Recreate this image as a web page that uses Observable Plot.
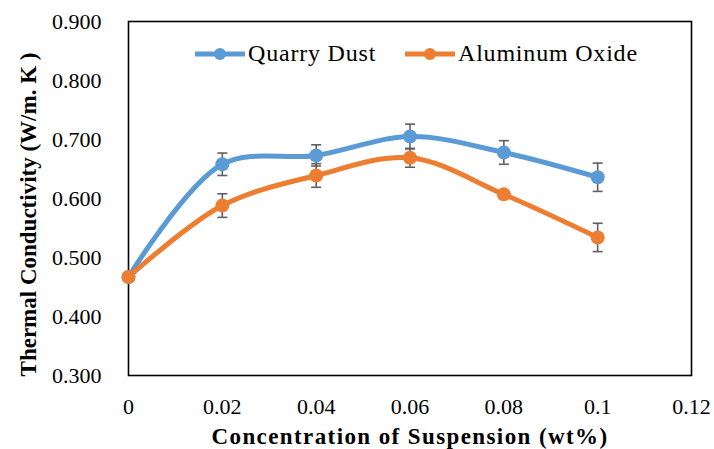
<!DOCTYPE html>
<html>
<head>
<meta charset="utf-8">
<script src="https://cdn.jsdelivr.net/npm/d3@7"></script>
<script src="https://cdn.jsdelivr.net/npm/@observablehq/plot@0.6"></script>
<style>
  html, body { margin: 0; padding: 0; background: #fff; }
  #wrap { position: relative; width: 714px; height: 449px; font-family: "Liberation Serif", "DejaVu Serif", serif; }
  #wrap svg [aria-label="x-axis label"] text { font-weight: bold; font-size: 23px; letter-spacing: 1.4px; }
  #wrap svg [aria-label="ylabel"] text { letter-spacing: 0.6px; }
  .legend { position: absolute; top: 40px; left: 0; font-size: 24px; letter-spacing: 0.8px; color: #000; }
  .item { position: absolute; white-space: nowrap; display: flex; align-items: center; }
</style>
</head>
<body>
<div id="wrap"></div>
<script>
const concentrations = [0, 0.02, 0.04, 0.06, 0.08, 0.1];
const quarryDust = [0.467, 0.658, 0.673, 0.705, 0.678, 0.636];
const quarryErr = [0, 0.019, 0.018, 0.021, 0.020, 0.024];
const aluminumOxide = [0.467, 0.588, 0.639, 0.669, 0.607, 0.534];
const aluminumErr = [0, 0.020, 0.020, 0.016, 0, 0.024];
const xTicks = [0, 0.02, 0.04, 0.06, 0.08, 0.1, 0.12];
const yTicks = [0.3, 0.4, 0.5, 0.6, 0.7, 0.8, 0.9];
const seriesNames = ["Quarry Dust", "Aluminum Oxide"];
const seriesColors = ["#5B9BD5", "#ED7D31"];
const xTitle = "Concentration of Suspension (wt%)";
const yTitle = "Thermal Conductivity (W/m. K )";

const rows = [];
concentrations.forEach((c, i) => {
  rows.push({series: seriesNames[0], x: c, y: quarryDust[i], e: quarryErr[i]});
});
concentrations.forEach((c, i) => {
  rows.push({series: seriesNames[1], x: c, y: aluminumOxide[i], e: aluminumErr[i]});
});
const errRows = rows.filter(d => d.e > 0);

const cap = {draw(ctx) { ctx.moveTo(-5, 0); ctx.lineTo(5, 0); }};
const colorOf = s => seriesColors[seriesNames.indexOf(s)];

const chart = Plot.plot({
  width: 714,
  height: 449,
  marginLeft: 128,
  marginRight: 23,
  marginTop: 21,
  marginBottom: 74,
  style: {fontFamily: "'Liberation Serif', 'DejaVu Serif', serif", background: "#fff", color: "#000"},
  x: {domain: [0, 0.12]},
  y: {domain: [0.3, 0.9]},
  marks: [
    Plot.axisY({ticks: yTicks, tickFormat: d3.format(".3f"), tickSize: 0, tickPadding: 27, fontSize: 22, label: null}),
    Plot.text([yTitle], {text: d => d, frameAnchor: "left", rotate: -90, dx: -100, dy: 16,
      textAnchor: "middle", lineAnchor: "middle", fontSize: 23, fontWeight: "bold", fill: "#000", ariaLabel: "ylabel"}),
    Plot.axisX({ticks: xTicks, tickFormat: d => String(+d.toFixed(2)), tickSize: 0, tickPadding: 23, fontSize: 22,
      label: xTitle, labelAnchor: "center", labelArrow: "none", labelOffset: 68}),
    Plot.frame({stroke: "#000", strokeWidth: 1.6}),
    ...seriesNames.map(s => Plot.line(rows.filter(d => d.series === s), {
      x: "x", y: "y", stroke: colorOf(s), strokeWidth: 5, curve: "catmull-rom"})),
    Plot.ruleX(errRows, {x: "x", y1: d => d.y - d.e, y2: d => d.y + d.e, stroke: "#606060", strokeWidth: 1.6}),
    ...seriesNames.map(s => Plot.dot(rows.filter(d => d.series === s), {
      x: "x", y: "y", r: 7, fill: colorOf(s), stroke: "none"})),
    Plot.dot(errRows, {x: "x", y: d => d.y + d.e, symbol: cap, stroke: "#606060", strokeWidth: 1.6, fill: "none"}),
    Plot.dot(errRows, {x: "x", y: d => d.y - d.e, symbol: cap, stroke: "#606060", strokeWidth: 1.6, fill: "none"})
  ]
});

const wrap = document.getElementById("wrap");
wrap.appendChild(chart);

const legend = document.createElement("div");
legend.className = "legend";
const positions = [195, 405];
seriesNames.forEach((s, i) => {
  const item = document.createElement("div");
  item.className = "item";
  item.style.left = positions[i] + "px";
  item.innerHTML = `<svg width="50" height="26" style="margin-right:3px"><line x1="0" x2="50" y1="13" y2="13" stroke="${seriesColors[i]}" stroke-width="5"/><circle cx="25" cy="13" r="6" fill="${seriesColors[i]}"/></svg><span>${s}</span>`;
  legend.appendChild(item);
});
wrap.appendChild(legend);
</script>
</body>
</html>
